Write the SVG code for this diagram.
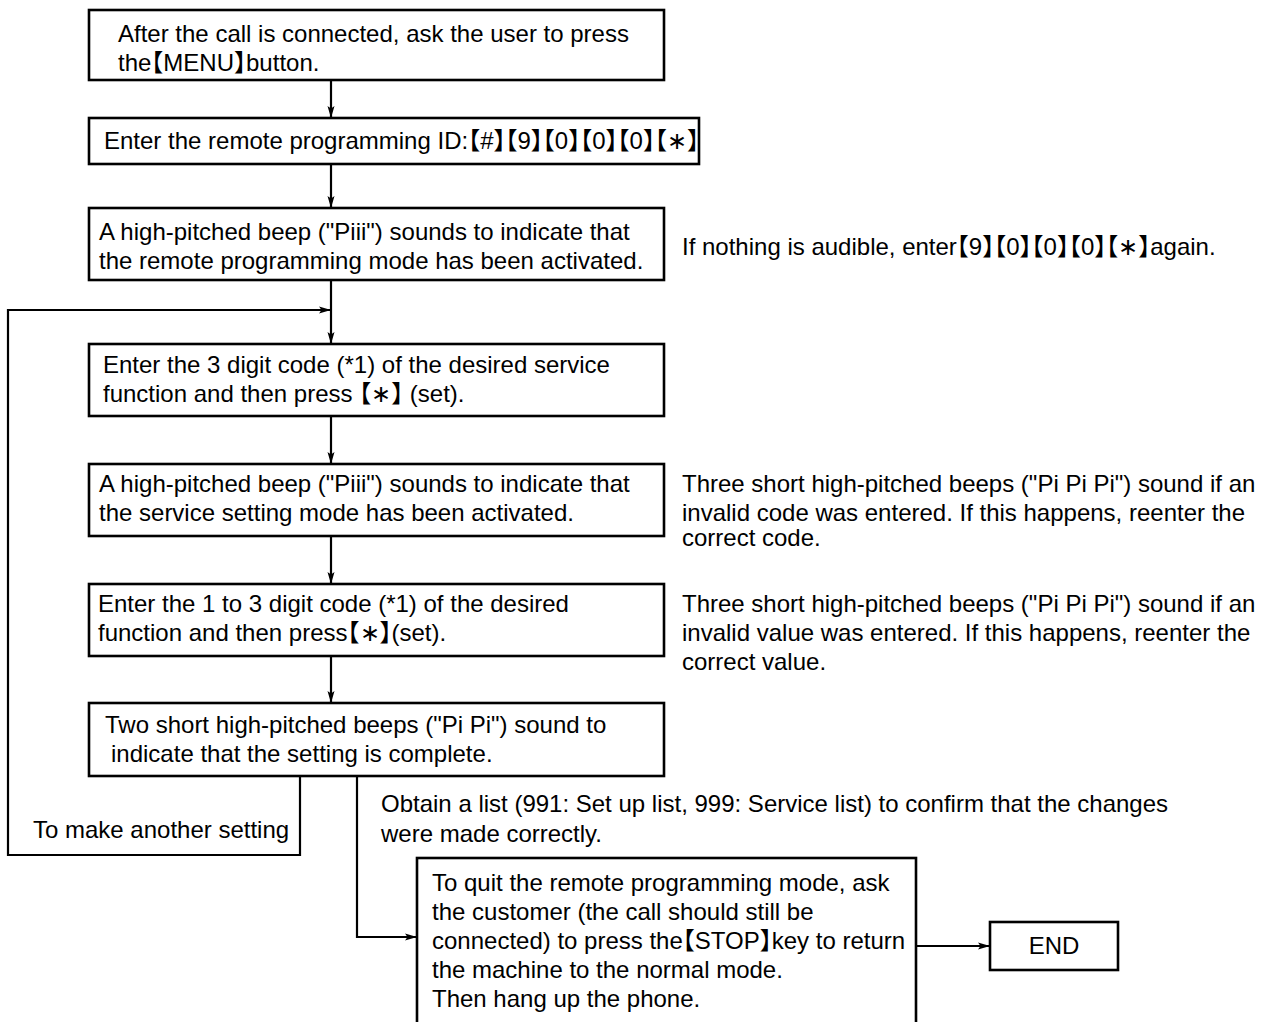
<svg xmlns="http://www.w3.org/2000/svg" width="1263" height="1022" viewBox="0 0 1263 1022">
<style>
text{font-family:"Liberation Sans","Noto Sans CJK JP",Arial,sans-serif;font-size:24px;fill:#000;font-feature-settings:"halt"}
.box{fill:#fff;stroke:#000;stroke-width:2.6}
.ln{fill:none;stroke:#000;stroke-width:2.2}
</style>
<defs>
<marker id="ar" viewBox="0 0 12 8" refX="11" refY="4" markerWidth="12" markerHeight="8" markerUnits="userSpaceOnUse" orient="auto">
<path d="M0,0.5 L12,4 L0,7.5 L2.5,4 Z" fill="#000"/>
</marker>
</defs>
<rect width="1263" height="1022" fill="#fff"/>
<g id="connectors">
<line class="ln" x1="331" y1="80" x2="331" y2="117" marker-end="url(#ar)"/>
<line class="ln" x1="331" y1="164" x2="331" y2="207" marker-end="url(#ar)"/>
<line class="ln" x1="331" y1="280" x2="331" y2="343" marker-end="url(#ar)"/>
<polyline class="ln" points="300,776 300,855 8,855 8,310 330,310" marker-end="url(#ar)"/>
<line class="ln" x1="331" y1="416" x2="331" y2="463" marker-end="url(#ar)"/>
<line class="ln" x1="331" y1="536" x2="331" y2="583" marker-end="url(#ar)"/>
<line class="ln" x1="331" y1="656" x2="331" y2="702" marker-end="url(#ar)"/>
<polyline class="ln" points="357,776 357,937 416,937" marker-end="url(#ar)"/>
<line class="ln" x1="916" y1="946" x2="989" y2="946" marker-end="url(#ar)"/>
<text x="33" y="838">To make another setting</text>
</g>
<g id="n1">
<rect class="box" x="89" y="10" width="575" height="70"/>
<text x="118" y="42">After the call is connected, ask the user to press</text>
<text x="118" y="71">the【MENU】button.</text>
</g>
<g id="n2">
<rect class="box" x="89" y="118" width="610" height="46"/>
<text x="104" y="149">Enter the remote programming ID:【#】【9】【0】【0】【0】【∗】</text>
</g>
<g id="n3">
<rect class="box" x="89" y="208" width="575" height="72"/>
<text x="99" y="240">A high-pitched beep ("Piii") sounds to indicate that</text>
<text x="99" y="269">the remote programming mode has been activated.</text>
</g>
<g id="note3">
<text x="682" y="255">If nothing is audible, enter【9】【0】【0】【0】【∗】again.</text>
</g>
<g id="n4">
<rect class="box" x="89" y="344" width="575" height="72"/>
<text x="103" y="373">Enter the 3 digit code (*1) of the desired service</text>
<text x="103" y="402">function and then press 【∗】 (set).</text>
</g>
<g id="n5">
<rect class="box" x="89" y="464" width="575" height="72"/>
<text x="99" y="492">A high-pitched beep ("Piii") sounds to indicate that</text>
<text x="99" y="521">the service setting mode has been activated.</text>
</g>
<g id="note5">
<text x="682" y="492">Three short high-pitched beeps ("Pi Pi Pi") sound if an</text>
<text x="682" y="521">invalid code was entered. If this happens, reenter the</text>
<text x="682" y="546">correct code.</text>
</g>
<g id="n6">
<rect class="box" x="89" y="584" width="575" height="72"/>
<text x="98" y="612">Enter the 1 to 3 digit code (*1) of the desired</text>
<text x="98" y="641">function and then press【∗】(set).</text>
</g>
<g id="note6">
<text x="682" y="612">Three short high-pitched beeps ("Pi Pi Pi") sound if an</text>
<text x="682" y="641">invalid value was entered. If this happens, reenter the</text>
<text x="682" y="670">correct value.</text>
</g>
<g id="n7">
<rect class="box" x="89" y="703" width="575" height="73"/>
<text x="105" y="733">Two short high-pitched beeps ("Pi Pi") sound to</text>
<text x="111" y="762">indicate that the setting is complete.</text>
</g>
<g id="note7">
<text x="381" y="812">Obtain a list (991: Set up list, 999: Service list) to confirm that the changes</text>
<text x="381" y="842">were made correctly.</text>
</g>
<g id="n8">
<rect class="box" x="417" y="858" width="499" height="180"/>
<text x="432" y="891">To quit the remote programming mode, ask</text>
<text x="432" y="920">the customer (the call should still be</text>
<text x="432" y="949">connected) to press the【STOP】key to return</text>
<text x="432" y="978">the machine to the normal mode.</text>
<text x="432" y="1007">Then hang up the phone.</text>
</g>
<g id="end">
<rect class="box" x="990" y="922" width="128" height="48"/>
<text x="1054" y="954" text-anchor="middle">END</text>
</g>
</svg>
